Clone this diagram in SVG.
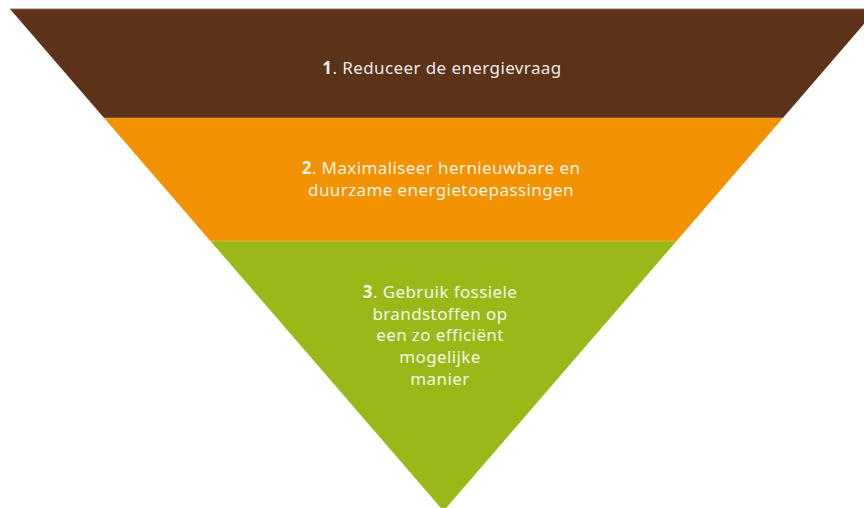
<svg xmlns="http://www.w3.org/2000/svg" width="864" height="508" viewBox="0 0 864 508">
<style>
.t{font-family:"Noto Sans","Open Sans",sans-serif;font-size:17px;letter-spacing:0.4px;fill:#ffffff;fill-opacity:0.92;text-anchor:middle}
.b{font-weight:bold}
</style>
<rect width="864" height="508" fill="#ffffff"/>
<g id="level1">
<polygon points="10,9 877,9 782.9,118 104.1,118" fill="#5C3219"/>
<line x1="10" y1="9" x2="877" y2="9" stroke="#8a6a55" stroke-width="1"/>
<text class="t" x="442" y="74"><tspan class="b">1</tspan>. Reduceer de energievraag</text>
</g>
<g id="level2">
<polygon points="104.1,118 782.9,118 676.6,241 210.4,241" fill="#F39200"/>
<text class="t" x="441" y="174"><tspan class="b">2</tspan>. Maximaliseer hernieuwbare en</text>
<text class="t" x="441" y="196">duurzame energietoepassingen</text>
</g>
<g id="level3">
<polygon points="210.4,241 676.6,241 443.5,511" fill="#9AB918"/>
<text class="t" x="440" y="298"><tspan class="b">3</tspan>. Gebruik fossiele</text>
<text class="t" x="440" y="320">brandstoffen op</text>
<text class="t" x="440" y="341">een zo efficiënt</text>
<text class="t" x="440" y="363">mogelijke</text>
<text class="t" x="440" y="385">manier</text>
</g>
<g id="connectors">
<line x1="104.1" y1="118" x2="782.9" y2="118" stroke="#f0c070" stroke-width="0.8" stroke-opacity="0.6"/>
<line x1="210.4" y1="241" x2="676.6" y2="241" stroke="#f0d070" stroke-width="0.8" stroke-opacity="0.6"/>
</g>
</svg>
